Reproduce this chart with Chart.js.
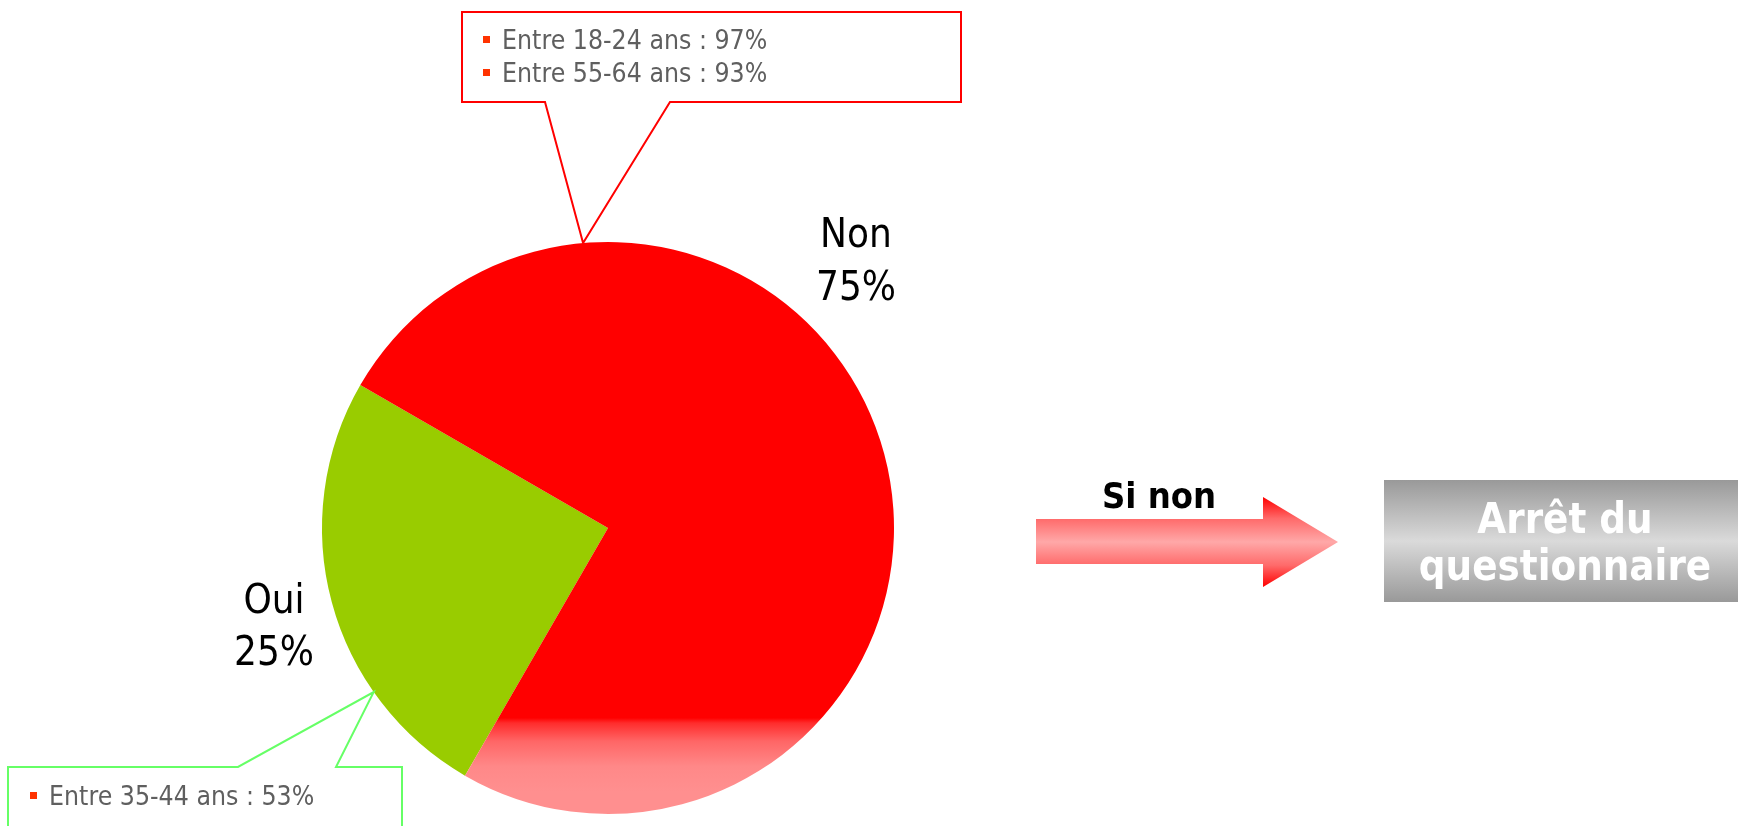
<!DOCTYPE html>
<html>
<head>
<meta charset="utf-8">
<script src="https://cdn.jsdelivr.net/npm/chart.js@4/dist/chart.umd.min.js"></script>
<style>
  html, body { margin: 0; padding: 0; background: #fff; }
  #wrap { width: 1738px; height: 826px; position: relative; overflow: hidden; }
</style>
</head>
<body>
<div id="wrap"><canvas id="pie" width="1738" height="826"></canvas></div>
<script>
// data
const answers = ['Oui', 'Non'];
const shares = [25, 75];
const sliceColors = ['#99cc00', '#ff0000'];
const ouiDetails = ['Entre 35-44 ans : 53%'];
const nonDetails = ['Entre 18-24 ans : 97%', 'Entre 55-64 ans : 93%'];
const arrowLabel = 'Si non';
const stopLines = ['Arrêt du', 'questionnaire'];

const FONT = '"DejaVu Sans", Verdana, sans-serif';

// Tahoma-like narrow text: draw DejaVu squeezed horizontally
function drawText(ctx, str, x, y, size, bold, sx, align, color) {
  ctx.save();
  ctx.font = (bold ? 'bold ' : '') + size + 'px ' + FONT;
  ctx.fillStyle = color;
  ctx.textAlign = align;
  ctx.textBaseline = 'alphabetic';
  ctx.translate(x, y);
  ctx.scale(sx, 1);
  ctx.fillText(str, 0, 0);
  ctx.restore();
}

// box with a pointer going to the pie edge
function callout(ctx, box, baseA, baseB, tip, color, fromTop) {
  ctx.save();
  ctx.beginPath();
  if (fromTop) {
    // pointer leaves the bottom side of the box
    ctx.moveTo(box.x0, box.y0);
    ctx.lineTo(box.x1, box.y0);
    ctx.lineTo(box.x1, box.y1);
    ctx.lineTo(baseB, box.y1);
    ctx.lineTo(tip.x, tip.y);
    ctx.lineTo(baseA, box.y1);
    ctx.lineTo(box.x0, box.y1);
  } else {
    // pointer leaves the top side of the box
    ctx.moveTo(box.x0, box.y1);
    ctx.lineTo(box.x0, box.y0);
    ctx.lineTo(baseA, box.y0);
    ctx.lineTo(tip.x, tip.y);
    ctx.lineTo(baseB, box.y0);
    ctx.lineTo(box.x1, box.y0);
    ctx.lineTo(box.x1, box.y1);
  }
  ctx.closePath();
  ctx.fillStyle = '#ffffff';
  ctx.fill();
  ctx.lineWidth = 2;
  ctx.strokeStyle = color;
  ctx.stroke();
  ctx.restore();
}

function detailLines(ctx, lines, x, baseline, step) {
  lines.forEach((t, i) => {
    const y = baseline + i * step;
    ctx.fillStyle = '#ff3300';
    ctx.fillRect(x, y - 13, 7, 7);
    drawText(ctx, t, x + 19, y, 27, false, 0.88, 'left', '#5f5f5f');
  });
}

const extras = {
  id: 'extras',
  afterDraw(chart) {
    const ctx = chart.ctx;
    const arcs = chart.getDatasetMeta(0).data;
    const cx = arcs[0].x, cy = arcs[0].y, r = arcs[0].outerRadius;
    const edge = deg => ({ x: cx + r * Math.cos(deg * Math.PI / 180), y: cy + r * Math.sin(deg * Math.PI / 180) });

    // slice labels
    drawText(ctx, answers[1], cx + 248, cy - 281, 40, false, 0.9, 'center', '#000');
    drawText(ctx, shares[1] + '%', cx + 248, cy - 228, 40, false, 0.9, 'center', '#000');
    drawText(ctx, answers[0], cx - 334, cy + 85, 40, false, 0.9, 'center', '#000');
    drawText(ctx, shares[0] + '%', cx - 334, cy + 137, 40, false, 0.9, 'center', '#000');

    // callouts
    callout(ctx, { x0: 462, y0: 12, x1: 961, y1: 102 }, 545, 670, edge(-95), '#ff0000', true);
    detailLines(ctx, nonDetails, 483, 49, 33);
    callout(ctx, { x0: 8, y0: 767, x1: 402, y1: 840 }, 238, 336, edge(145), '#66ff66', false);
    detailLines(ctx, ouiDetails, 30, 805, 33);

    // arrow
    ctx.save();
    const ag = ctx.createLinearGradient(0, 497, 0, 587);
    ag.addColorStop(0, '#ff0000');
    ag.addColorStop(0.24, '#ff6a6a');
    ag.addColorStop(0.5, '#ffa8a8');
    ag.addColorStop(0.76, '#ff6a6a');
    ag.addColorStop(1, '#ff0000');
    ctx.fillStyle = ag;
    ctx.beginPath();
    ctx.moveTo(1036, 519);
    ctx.lineTo(1263, 519);
    ctx.lineTo(1263, 497);
    ctx.lineTo(1338, 542);
    ctx.lineTo(1263, 587);
    ctx.lineTo(1263, 564);
    ctx.lineTo(1036, 564);
    ctx.closePath();
    ctx.fill();
    ctx.restore();
    drawText(ctx, arrowLabel, 1159, 508, 36, true, 0.9, 'center', '#000');

    // grey box
    ctx.save();
    const bg = ctx.createLinearGradient(0, 480, 0, 602);
    bg.addColorStop(0, '#999999');
    bg.addColorStop(0.5, '#dadada');
    bg.addColorStop(1, '#999999');
    ctx.fillStyle = bg;
    ctx.fillRect(1384, 480, 354, 122);
    ctx.restore();
    drawText(ctx, stopLines[0], 1565, 533, 42, true, 0.89, 'center', '#ffffff');
    drawText(ctx, stopLines[1], 1565, 580, 42, true, 0.89, 'center', '#ffffff');
  }
};

function sliceFill(c) {
  if (c.dataIndex === 0) return sliceColors[0];
  const area = c.chart.chartArea;
  if (!area) return sliceColors[1];
  const cy = (area.top + area.bottom) / 2;
  const r = (area.bottom - area.top) / 2;
  const y0 = cy + 0.664 * r, y1 = cy + 0.92 * r;
  const g = c.chart.ctx.createLinearGradient(0, y0, 0, y1);
  g.addColorStop(0, '#ff0000');
  g.addColorStop(0.07, '#ff2c2c');
  g.addColorStop(0.32, '#ff6666');
  g.addColorStop(0.66, '#ff8888');
  g.addColorStop(1, '#ff8f8f');
  return g;
}

new Chart(document.getElementById('pie'), {
  type: 'pie',
  data: {
    labels: answers,
    datasets: [{
      data: shares,
      backgroundColor: sliceFill,
      borderWidth: 0,
      hoverOffset: 0,
      offset: 0
    }]
  },
  options: {
    responsive: false,
    animation: false,
    devicePixelRatio: 1,
    rotation: 210,
    layout: { padding: { left: 322, right: 844, top: 242, bottom: 12 } },
    plugins: {
      legend: { display: false },
      tooltip: { enabled: false }
    },
    events: []
  },
  plugins: [extras]
});
</script>
</body>
</html>
